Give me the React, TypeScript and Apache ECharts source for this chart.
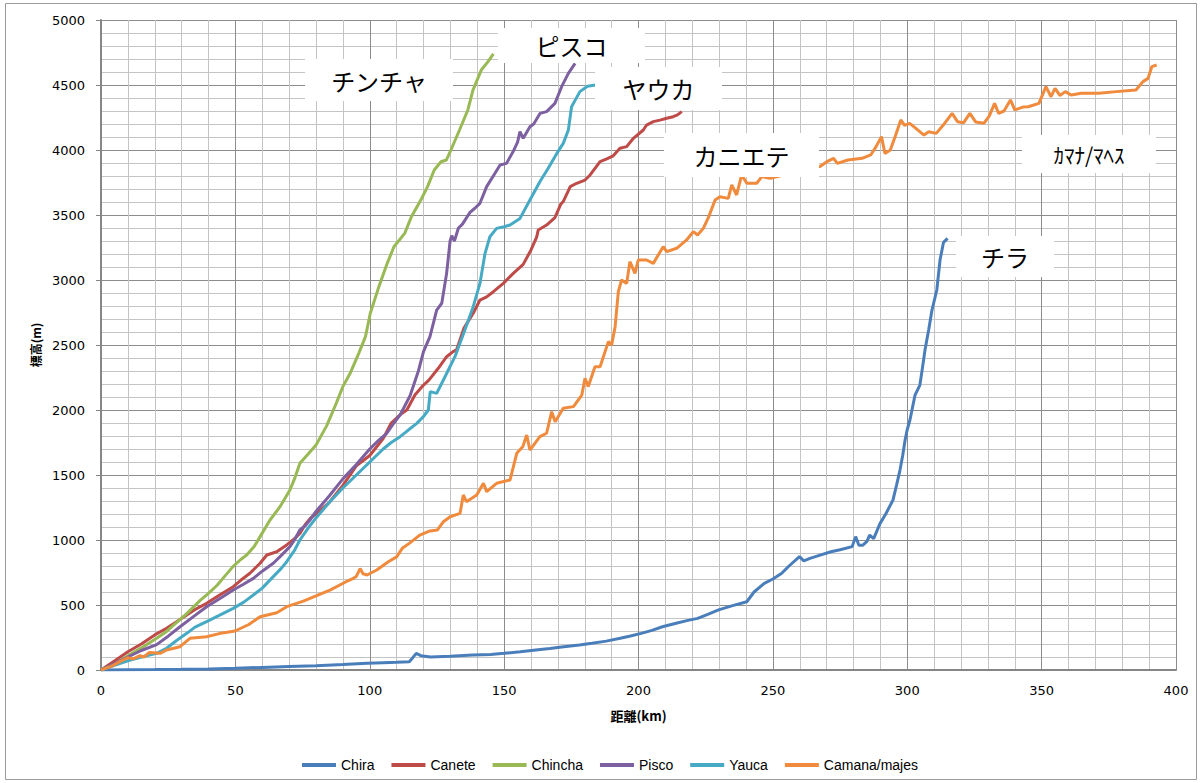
import React, { useEffect, useRef } from "react";
import * as echarts from "echarts";

const seriesNames = ["Chira", "Canete", "Chincha", "Pisco", "Yauca", "Camana/majes"];
const seriesColors = ["#4A7EBB", "#BE4B48", "#98B954", "#7D60A0", "#46AAC5", "#F08A3C"];

const xTicks = { min: 0, max: 400, interval: 50 };
const yTicks = { min: 0, max: 5000, interval: 500 };

const chiraData = [
  [0, 0], [10, 2], [20, 3], [30, 5], [40, 8], [50, 13], [60, 20], [70, 27], [80, 33], [90, 42], [99, 51],
  [105, 56], [110, 60], [114.7, 64], [116, 95], [117.3, 128], [119, 110], [122.6, 100], [130, 105],
  [138.2, 115], [145, 120], [150, 128], [156, 140], [161.8, 154], [167, 165], [172.2, 179], [178, 192],
  [182.7, 205], [188, 222], [193.2, 244], [197, 262], [201, 282], [205, 305], [208.9, 333], [214, 360],
  [218, 380], [222, 397], [226, 430], [229.8, 462], [235, 495], [240.3, 525], [243, 600], [246.8, 667],
  [250, 700], [253.3, 744], [256, 800], [259.9, 872], [261.5, 840], [263.8, 859], [267, 880], [271.6, 910],
  [275, 925], [279.5, 949], [280.8, 1026], [282, 960], [283.4, 959], [285, 990], [286, 1038], [287.5, 1010],
  [289.9, 1128], [292, 1200], [294.7, 1308], [296, 1420], [297.3, 1538], [298.3, 1650], [299.2, 1769],
  [300, 1850], [301, 1923], [302.9, 2115], [304.7, 2192], [305.7, 2330], [306.6, 2462], [308, 2620],
  [309.2, 2769], [311, 2923], [312.2, 3154], [313.5, 3290], [315, 3320],
];

const caneteData = [
  [0, 0], [5, 70], [10, 140], [15, 200], [20, 270], [24.4, 321], [28, 370], [31.9, 423], [35, 465],
  [39.3, 513], [44, 575], [49.2, 641], [52, 690], [55.4, 744], [59.2, 821], [61.7, 885], [65.4, 910],
  [69.1, 962], [72, 1010], [74, 1051], [76, 1120], [78, 1170], [80, 1200], [85, 1290], [90, 1420],
  [95, 1570], [100, 1650], [105, 1780], [108, 1900], [111.9, 1974], [113.8, 2000], [116.8, 2115],
  [120, 2192], [122, 2230], [125.5, 2321], [128.6, 2410], [131, 2449], [132.3, 2462], [135, 2628],
  [138.5, 2744], [141, 2846], [143.5, 2870], [146, 2910], [149.7, 2974], [153.4, 3051], [157.1, 3120],
  [160, 3231], [162.1, 3330], [162.7, 3385], [165.8, 3423], [168.9, 3480], [171, 3580], [172, 3603],
  [174.6, 3718], [177, 3744], [180.1, 3769], [182, 3808], [185.7, 3910], [188, 3930], [190.6, 3955],
  [193.1, 4013], [195.6, 4026], [198.1, 4090], [201.8, 4154], [203, 4192], [205.5, 4218], [208, 4230],
  [210.5, 4244], [212.9, 4256], [214.5, 4270], [216.1, 4295],
];

const chinchaData = [
  [0, 0], [5, 45], [10, 110], [15, 170], [20.7, 244], [24, 290], [27, 346], [32, 436], [37, 538],
  [40, 590], [43.3, 654], [46, 720], [49.1, 795], [52, 850], [54.2, 885], [57, 950], [59.2, 1026],
  [62.9, 1154], [66.6, 1256], [70.3, 1385], [72, 1470], [74, 1590], [77, 1660], [80, 1730], [84, 1880],
  [87.5, 2050], [90, 2180], [92.7, 2282], [95.9, 2436], [98.4, 2564], [100.2, 2744], [103.4, 2949],
  [106.5, 3128], [109, 3256], [113, 3359], [115.5, 3487], [119, 3615], [121.5, 3718], [124, 3846],
  [126.5, 3910], [128.5, 3923], [130.2, 4000], [133.4, 4154], [136.5, 4308], [138.4, 4461],
  [141.5, 4615], [144, 4680], [146, 4740],
];

const piscoData = [
  [0, 0], [5, 50], [10, 100], [15, 150], [20.7, 195], [25, 260], [29.4, 333], [35, 420], [39.3, 487],
  [45, 560], [49.2, 615], [53, 660], [56.7, 705], [60, 760], [64.1, 821], [67, 880], [70.3, 949],
  [72, 1000], [74, 1077], [76, 1110], [78, 1160], [80, 1220], [85, 1340], [90, 1470], [95, 1580],
  [100, 1700], [103, 1760], [106.3, 1821], [109, 1900], [111.3, 1962], [115, 2110], [118.1, 2300],
  [120, 2449], [122.4, 2564], [124.9, 2769], [126.8, 2821], [128.6, 3051], [129.9, 3300], [130.5, 3340],
  [131.5, 3300], [133, 3400], [134.5, 3430], [137.3, 3520], [139, 3550], [141, 3590], [143.5, 3718],
  [146.6, 3821], [148.5, 3885], [150.9, 3897], [153.4, 3990], [155, 4060], [155.9, 4141], [157.1, 4090],
  [159.6, 4179], [161, 4200], [163.4, 4282], [165.8, 4295], [168.9, 4359], [171.4, 4487], [173.9, 4590],
  [176.4, 4667],
];

const yaucaData = [
  [0, 0], [5, 35], [10, 70], [15, 100], [20.7, 128], [24.4, 167], [28, 225], [31.9, 282], [35, 330],
  [39.3, 372], [44, 420], [49.2, 474], [53, 520], [56.7, 577], [60, 630], [64.1, 718], [67, 780],
  [69.1, 833], [72, 920], [74, 1000], [77, 1090], [80, 1170], [85, 1290], [90, 1400], [95, 1500],
  [100, 1600], [105, 1700], [108, 1750], [111.3, 1795], [114, 1840], [117.5, 1897], [120, 1950],
  [121.8, 2000], [122.5, 2141], [124.9, 2128], [128, 2256], [131.7, 2410], [135.4, 2615], [138.5, 2795],
  [141, 2974], [142.9, 3205], [144.7, 3333], [147.2, 3397], [150, 3410], [152.2, 3423], [155.9, 3474],
  [159.6, 3615], [163.3, 3756], [166.4, 3859], [169.6, 3974], [172, 4051], [173.9, 4154], [175.1, 4333],
  [178.2, 4449], [181, 4490], [184, 4500],
];

const camanaData = [
  [0, 0], [4, 30], [7, 64], [10, 95], [12, 85], [14.5, 110], [16, 100], [18, 135], [22, 128], [24.4, 154],
  [29.4, 179], [33.1, 244], [39.3, 256], [44, 280], [49.9, 300], [55, 350], [59.2, 410], [65.4, 440],
  [69.1, 487], [75.3, 530], [80, 570], [85.2, 615], [91.2, 679], [93.9, 705], [95, 720], [96.4, 780],
  [97.5, 740], [99, 731], [102.6, 769], [106.9, 833], [110, 870], [112.1, 936], [114.7, 974],
  [118.6, 1038], [122.4, 1070], [125.2, 1077], [127.4, 1141], [129.9, 1179], [133.6, 1205], [134.8, 1346],
  [136, 1295], [139.8, 1346], [142.3, 1436], [143.5, 1372], [147.2, 1436], [152.2, 1462], [154.7, 1667],
  [157, 1720], [158.4, 1808], [159.6, 1692], [163.3, 1795], [165.8, 1821], [167.7, 1987], [169, 1910],
  [172, 2013], [175.8, 2026], [178.9, 2115], [180.1, 2244], [181.3, 2180], [183.8, 2333], [185.7, 2333],
  [188.8, 2526], [190, 2500], [191.3, 2641], [192.5, 2910], [193.7, 3000], [195.6, 2974], [196.8, 3141],
  [198.7, 3051], [199.9, 3154], [203, 3154], [205.5, 3128], [209.2, 3256], [210.5, 3218], [214.2, 3244],
  [217.9, 3308], [220.4, 3372], [222, 3346], [224.1, 3397], [226, 3480], [228.5, 3615], [230.3, 3641],
  [233.4, 3628], [234.7, 3731], [236.5, 3654], [238.4, 3808], [240.3, 3744], [244, 3744], [245.9, 3795],
  [249, 3782], [254, 3808], [257.6, 3833], [261.4, 3846], [267.4, 3872], [270.1, 3910], [272.6, 3936],
  [274, 3897], [277.9, 3923], [283.2, 3936], [286.4, 3962], [288.4, 4026], [290.4, 4103], [291.7, 3974],
  [293.7, 4000], [295.7, 4115], [297.6, 4231], [299, 4190], [300.9, 4205], [303, 4170], [306.2, 4115],
  [308, 4140], [310.8, 4128], [313.4, 4192], [316.7, 4282], [318.7, 4218], [321, 4210], [323.3, 4282],
  [325.5, 4215], [328.5, 4205], [330.5, 4260], [332.5, 4359], [334, 4282], [336, 4300], [338.4, 4385],
  [340, 4308], [343, 4330], [345, 4333], [349, 4359], [351.6, 4487], [353.5, 4410], [355, 4474],
  [356.8, 4420], [358.8, 4449], [361, 4423], [364.7, 4436], [371.3, 4436], [377.8, 4449], [385.1, 4462],
  [387.7, 4526], [389.6, 4551], [391, 4641], [392.8, 4654],
];

const allData = [chiraData, caneteData, chinchaData, piscoData, yaucaData, camanaData];

// annotation labels: text, box [x, y, w, h], font size
const labelTexts = ["チンチャ", "ピスコ", "ヤウカ", "カニエテ", "ｶﾏﾅ/ﾏﾍｽ", "チラ"];
const labelBoxes = [
  [305, 59, 148, 42],
  [498, 28, 147, 35],
  [595, 67, 127, 43],
  [664, 133, 155, 44],
  [1022, 135, 134, 38],
  [956, 236, 98, 41],
];
const labelFontSizes = [24, 24, 24, 24, 21, 24];

export default function App() {
  const ref = useRef<HTMLDivElement>(null);

  useEffect(() => {
    if (!ref.current) return;
    const chart = echarts.init(ref.current, null, { renderer: "svg" });

    const graphics: any[] = [
      {
        type: "rect",
        z: 0,
        silent: true,
        shape: { x: 5.5, y: 3.5, width: 1191, height: 776 },
        style: { fill: "none", stroke: "#9a9a9a", lineWidth: 1 },
      },
    ];
    labelTexts.forEach((t, i) => {
      const [bx, by, bw, bh] = labelBoxes[i];
      graphics.push({
        type: "rect",
        z: 100,
        silent: true,
        shape: { x: bx, y: by, width: bw, height: bh },
        style: { fill: "#ffffff", stroke: "none" },
      });
      graphics.push({
        type: "text",
        z: 101,
        silent: true,
        x: bx + bw / 2,
        y: by + bh / 2,
        style: {
          text: t,
          fill: "#000",
          font: `${labelFontSizes[i]}px "Noto Sans CJK JP"`,
          align: "center",
          verticalAlign: "middle",
          textAlign: "center",
          textVerticalAlign: "middle",
        },
      });
    });

    const option: any = {
      animation: false,
      backgroundColor: "#ffffff",
      textStyle: { fontFamily: "DejaVu Sans" },
      grid: { left: 101, right: 26, top: 20, bottom: 113, containLabel: false },
      xAxis: {
        type: "value",
        min: xTicks.min,
        max: xTicks.max,
        interval: xTicks.interval,
        name: "距離(km)",
        nameLocation: "middle",
        nameGap: 39,
        nameTextStyle: { fontSize: 13, fontWeight: "bold", color: "#000", fontFamily: "Noto Sans CJK JP" },
        axisLine: { show: true, onZero: false, lineStyle: { color: "#868686", width: 2 } },
        axisTick: { show: false },
        axisLabel: { fontSize: 13, color: "#000", margin: 14, fontFamily: "DejaVu Sans", formatter: (v: number) => String(v) },
        splitLine: { show: true, lineStyle: { color: "#8c8c8c", width: 1 } },
        minorTick: { show: false, splitNumber: 5 },
        minorSplitLine: { show: true, lineStyle: { color: "#c4c4c4", width: 1 } },
      },
      yAxis: {
        type: "value",
        min: yTicks.min,
        max: yTicks.max,
        interval: yTicks.interval,
        name: "標高(m)",
        nameLocation: "middle",
        nameRotate: 90,
        nameGap: 60,
        nameTextStyle: { fontSize: 12, fontWeight: "bold", color: "#000", fontFamily: "Noto Sans CJK JP" },
        axisLine: { show: true, onZero: false, lineStyle: { color: "#868686", width: 2 } },
        axisTick: { show: true, length: 5, lineStyle: { color: "#868686" } },
        axisLabel: { fontSize: 13, color: "#000", margin: 16, fontFamily: "DejaVu Sans", formatter: (v: number) => String(v) },
        splitLine: { show: true, lineStyle: { color: "#8c8c8c", width: 1 } },
        minorTick: { show: false, splitNumber: 5 },
        minorSplitLine: { show: true, lineStyle: { color: "#c4c4c4", width: 1 } },
      },
      legend: {
        show: true,
        left: 297,
        top: 753,
        icon: "rect",
        itemWidth: 34,
        itemHeight: 4,
        itemGap: 17,
        textStyle: { fontSize: 14, color: "#000", fontFamily: "Liberation Sans" },
        data: seriesNames,
      },
      series: seriesNames.map((n, i) => ({
        name: n,
        type: "line",
        data: allData[i],
        showSymbol: false,
        symbol: "none",
        color: seriesColors[i],
        lineStyle: { width: 3, color: seriesColors[i] },
        z: 2 + i,
      })),
      graphic: graphics,
    };

    chart.setOption(option);
    return () => chart.dispose();
  }, []);

  return (
    <div
      ref={ref}
      style={{ position: "absolute", left: 0, top: 0, width: 1202, height: 783 }}
    />
  );
}
